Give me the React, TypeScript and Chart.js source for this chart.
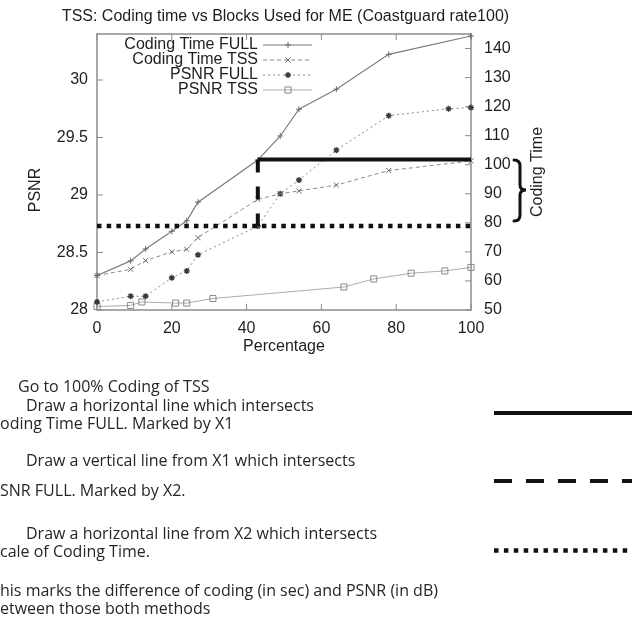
import React, { useEffect, useRef } from 'react';
import { Chart, registerables } from 'chart.js';

Chart.register(...registerables);

// ---------- data ----------
const chartTitle = 'TSS: Coding time vs Blocks Used for ME (Coastguard rate100)';
const xAxisTitle = 'Percentage';
const yAxisTitle = 'PSNR';
const y2AxisTitle = 'Coding Time';

const seriesLabels = ['Coding Time FULL', 'Coding Time TSS', 'PSNR FULL', 'PSNR TSS'];

const codingPercent = [0, 9, 13, 20, 24, 27, 43, 49, 54, 64, 78, 100];
const codingTimeFull = [61.9, 66.9, 71.0, 77.1, 80.7, 87.1, 101.6, 109.9, 119.1, 126.0, 138.0, 144.3];
const codingTimeTss = [61.9, 64.0, 67.0, 70.0, 70.9, 74.9, 88.1, 90.0, 91.0, 93.0, 98.0, 101.3];

const psnrFullPercent = [0, 9, 13, 20, 24, 27, 43, 49, 54, 64, 78, 94, 100];
const psnrFull = [28.07, 28.12, 28.12, 28.28, 28.34, 28.48, 28.73, 29.01, 29.13, 29.39, 29.69, 29.75, 29.76];

const psnrTssPercent = [0, 9, 12, 21, 24, 31, 66, 74, 84, 93, 100];
const psnrTss = [28.03, 28.04, 28.07, 28.06, 28.06, 28.1, 28.2, 28.27, 28.32, 28.34, 28.37];

const xTicks = [0, 20, 40, 60, 80, 100];
const yTicks = [28, 28.5, 29, 29.5, 30];
const y2Ticks = [50, 60, 70, 80, 90, 100, 110, 120, 130, 140];

// construction lines (X1 on Coding Time FULL, X2 on PSNR FULL)
const x1Percent = [43, 100];
const x1CodingTime = 101.8;
const x2CodingTime = 78.9;
const x2Psnr = 28.73;
const x2Percent = [0, 100];

const noteLines = [
  'Go to 100% Coding of TSS',
  'Draw a horizontal line which intersects',
  'oding Time FULL. Marked by X1',
  'Draw a vertical line from X1 which intersects',
  'SNR FULL. Marked by X2.',
  'Draw a horizontal line from X2 which intersects',
  'cale of Coding Time.',
  'his marks the difference of coding (in sec) and PSNR (in dB)',
  'etween those both methods',
];
const noteX = [18, 26, 0, 26, 0, 26, 0, 0, 0];
const noteY = [386, 405, 423, 460, 490, 533, 551, 590, 608];

// ---------- helpers ----------
const FONT = '"Liberation Sans", Arial, sans-serif';

const pts = (xs: number[], ys: number[]) => xs.map((x, i) => ({ x, y: ys[i] }));

function drawMarker(ctx: CanvasRenderingContext2D, style: string, x: number, y: number, r: number, color: string, lw: number) {
  ctx.save();
  ctx.setLineDash([]);
  ctx.strokeStyle = color;
  ctx.lineWidth = lw;
  ctx.beginPath();
  if (style === 'cross' || style === 'star') {
    ctx.moveTo(x - r, y); ctx.lineTo(x + r, y);
    ctx.moveTo(x, y - r); ctx.lineTo(x, y + r);
  }
  if (style === 'crossRot' || style === 'star') {
    const d = r * Math.SQRT1_2;
    ctx.moveTo(x - d, y - d); ctx.lineTo(x + d, y + d);
    ctx.moveTo(x - d, y + d); ctx.lineTo(x + d, y - d);
  }
  if (style === 'rect') {
    const s = r * Math.SQRT1_2;
    ctx.rect(x - s, y - s, 2 * s, 2 * s);
  }
  ctx.stroke();
  ctx.restore();
}

const overlayPlugin = {
  id: 'overlay',
  beforeDatasetsDraw(chart: any) {
    const { ctx, chartArea: a, scales } = chart;
    ctx.save();
    ctx.strokeStyle = '#8c8c8c';
    ctx.lineWidth = 1.5;
    ctx.strokeRect(a.left, a.top, a.right - a.left, a.bottom - a.top);
    ctx.lineWidth = 1;
    const tl = 6;
    ctx.beginPath();
    for (const v of xTicks) {
      const x = scales.x.getPixelForValue(v);
      ctx.moveTo(x, a.bottom); ctx.lineTo(x, a.bottom - tl);
      ctx.moveTo(x, a.top); ctx.lineTo(x, a.top + tl);
    }
    for (const v of yTicks) {
      const y = scales.y.getPixelForValue(v);
      ctx.moveTo(a.left, y); ctx.lineTo(a.left + tl, y);
    }
    for (const v of y2Ticks) {
      const y = scales.y1.getPixelForValue(v);
      ctx.moveTo(a.right, y); ctx.lineTo(a.right - tl, y);
    }
    ctx.stroke();
    ctx.restore();
  },
  afterDraw(chart: any) {
    const { ctx, chartArea: a } = chart;
    ctx.save();
    ctx.fillStyle = '#1e1e1e';
    ctx.font = `16px ${FONT}`;
    ctx.textAlign = 'center';
    ctx.textBaseline = 'middle';
    ctx.fillText(chartTitle, 285.5, 17);
    ctx.fillText(xAxisTitle, (a.left + a.right) / 2, 347);
    ctx.save();
    ctx.translate(36, 190);
    ctx.rotate(-Math.PI / 2);
    ctx.fillText(yAxisTitle, 0, 0);
    ctx.restore();
    ctx.save();
    ctx.translate(538, 172);
    ctx.rotate(-Math.PI / 2);
    ctx.fillText(y2AxisTitle, 0, 0);
    ctx.restore();

    // legend (gnuplot style)
    const rows = [45, 60, 75, 90];
    chart.data.datasets.slice(0, 4).forEach((ds: any, i: number) => {
      const y = rows[i];
      ctx.textAlign = 'right';
      ctx.fillStyle = '#1e1e1e';
      ctx.fillText(ds.label, 258, y);
      ctx.save();
      ctx.strokeStyle = ds.borderColor;
      ctx.lineWidth = ds.borderWidth;
      ctx.setLineDash(ds.borderDash || []);
      ctx.beginPath();
      ctx.moveTo(263, y); ctx.lineTo(312, y);
      ctx.stroke();
      ctx.restore();
      drawMarker(ctx, ds.pointStyle, 288, y, ds.pointRadius, ds.pointBorderColor, ds.pointBorderWidth);
    });

    // curly brace beside the Coding Time axis
    ctx.save();
    ctx.strokeStyle = '#111';
    ctx.lineWidth = 3;
    ctx.lineCap = 'round';
    ctx.beginPath();
    const bx = 514, top = 160, mid = 190, bot = 221;
    ctx.moveTo(bx, top);
    ctx.quadraticCurveTo(bx + 6, top, bx + 6, top + 6);
    ctx.lineTo(bx + 6, mid - 5);
    ctx.quadraticCurveTo(bx + 6, mid, bx + 12, mid);
    ctx.quadraticCurveTo(bx + 6, mid, bx + 6, mid + 5);
    ctx.lineTo(bx + 6, bot - 6);
    ctx.quadraticCurveTo(bx + 6, bot, bx, bot);
    ctx.stroke();
    ctx.restore();

    // key of construction line styles (right of the notes)
    ctx.save();
    ctx.strokeStyle = '#111';
    ctx.lineCap = 'butt';
    ctx.lineWidth = 4;
    ctx.beginPath(); ctx.moveTo(494, 413); ctx.lineTo(632, 413); ctx.stroke();
    ctx.setLineDash([18, 14]);
    ctx.beginPath(); ctx.moveTo(494, 481); ctx.lineTo(632, 481); ctx.stroke();
    ctx.lineWidth = 4.5;
    ctx.setLineDash([4.5, 5.4]);
    ctx.beginPath(); ctx.moveTo(494, 550.5); ctx.lineTo(632, 550.5); ctx.stroke();
    ctx.restore();
    ctx.restore();
  },
};

export default function App() {
  const ref = useRef<HTMLCanvasElement>(null);
  useEffect(() => {
    if (!ref.current) return;
    const tickFont = { family: FONT, size: 16 };
    const chart = new Chart(ref.current, {
      type: 'line',
      data: {
        datasets: [
          {
            label: seriesLabels[0], data: pts(codingPercent, codingTimeFull), yAxisID: 'y1',
            borderColor: '#7c7c7c', borderWidth: 1.2, pointStyle: 'cross', pointRadius: 3,
            pointBorderColor: '#6a6a6a', pointBorderWidth: 1, clip: false, order: 2,
          },
          {
            label: seriesLabels[1], data: pts(codingPercent, codingTimeTss), yAxisID: 'y1',
            borderColor: '#8a8a8a', borderWidth: 1, borderDash: [4, 3], pointStyle: 'crossRot', pointRadius: 3.6,
            pointBorderColor: '#6a6a6a', pointBorderWidth: 1, clip: false, order: 2,
          },
          {
            label: seriesLabels[2], data: pts(psnrFullPercent, psnrFull), yAxisID: 'y',
            borderColor: '#8a8a8a', borderWidth: 1, borderDash: [2, 3], pointStyle: 'star', pointRadius: 3,
            pointBorderColor: '#3a3a3a', pointBorderWidth: 1.4, clip: false, order: 2,
          },
          {
            label: seriesLabels[3], data: pts(psnrTssPercent, psnrTss), yAxisID: 'y',
            borderColor: '#ababab', borderWidth: 1, pointStyle: 'rect', pointRadius: 4.3,
            pointBorderColor: '#8a8a8a', pointBorderWidth: 1, pointBackgroundColor: 'rgba(255,255,255,0)', clip: false, order: 2,
          },
          {
            label: 'X1', data: pts(x1Percent, [x1CodingTime, x1CodingTime]), yAxisID: 'y1',
            borderColor: '#111', borderWidth: 4, pointRadius: 0, borderCapStyle: 'butt', order: 0,
          },
          {
            label: 'X1-X2', data: pts([x1Percent[0], x1Percent[0]], [x1CodingTime, x2CodingTime]), yAxisID: 'y1',
            borderColor: '#111', borderWidth: 4, borderDash: [13, 14], pointRadius: 0, borderCapStyle: 'butt', order: 0,
          },
          {
            label: 'X2', data: pts(x2Percent, [x2Psnr, x2Psnr]), yAxisID: 'y',
            borderColor: '#111', borderWidth: 4.5, borderDash: [4.5, 5.2], pointRadius: 0, borderCapStyle: 'butt', order: 0,
          },
        ],
      } as any,
      options: {
        animation: false,
        responsive: false,
        layout: { padding: { left: 0, top: 34, right: 0, bottom: 0 } },
        plugins: { legend: { display: false }, tooltip: { enabled: false }, title: { display: false } },
        elements: { line: { tension: 0 } },
        scales: {
          x: {
            type: 'linear', min: 0, max: 100, position: 'bottom',
            grid: { display: false, drawTicks: false }, border: { display: false },
            ticks: { font: tickFont, color: '#1e1e1e', padding: 9, autoSkip: false, maxRotation: 0, callback: (v: any) => String(v) },
            afterBuildTicks: (s: any) => { s.ticks = xTicks.map((value) => ({ value })); },
            afterFit: (s: any) => { s.height = 314; },
          },
          y: {
            type: 'linear', min: 28, max: 30.4, position: 'left',
            grid: { display: false, drawTicks: false }, border: { display: false },
            ticks: { font: tickFont, color: '#1e1e1e', padding: 9, autoSkip: false, callback: (v: any) => String(v) },
            afterBuildTicks: (s: any) => { s.ticks = yTicks.map((value) => ({ value })); },
            afterFit: (s: any) => { s.width = 97; },
          },
          y1: {
            type: 'linear', min: 50, max: 145, position: 'right',
            grid: { display: false, drawTicks: false }, border: { display: false },
            ticks: { font: tickFont, color: '#1e1e1e', padding: 13, autoSkip: false, callback: (v: any) => String(v) },
            afterBuildTicks: (s: any) => { s.ticks = y2Ticks.map((value) => ({ value })); },
            afterFit: (s: any) => { s.width = 161; },
          },
        },
      } as any,
      plugins: [overlayPlugin],
    });
    return () => chart.destroy();
  }, []);

  return (
    <div style={{ position: 'absolute', left: 0, top: 0, width: 632, height: 624, background: '#fff', overflow: 'hidden' }}>
      <canvas ref={ref} width={632} height={624} style={{ position: 'absolute', left: 0, top: 0 }} />
      {noteLines.map((t, i) => (
        <div
          key={i}
          style={{
            position: 'absolute', left: noteX[i], top: noteY[i] - 10, height: 20, lineHeight: '20px',
            fontFamily: '"Open Sans", sans-serif', fontSize: 16, color: '#262626', whiteSpace: 'nowrap',
          }}
        >
          {t}
        </div>
      ))}
    </div>
  );
}
